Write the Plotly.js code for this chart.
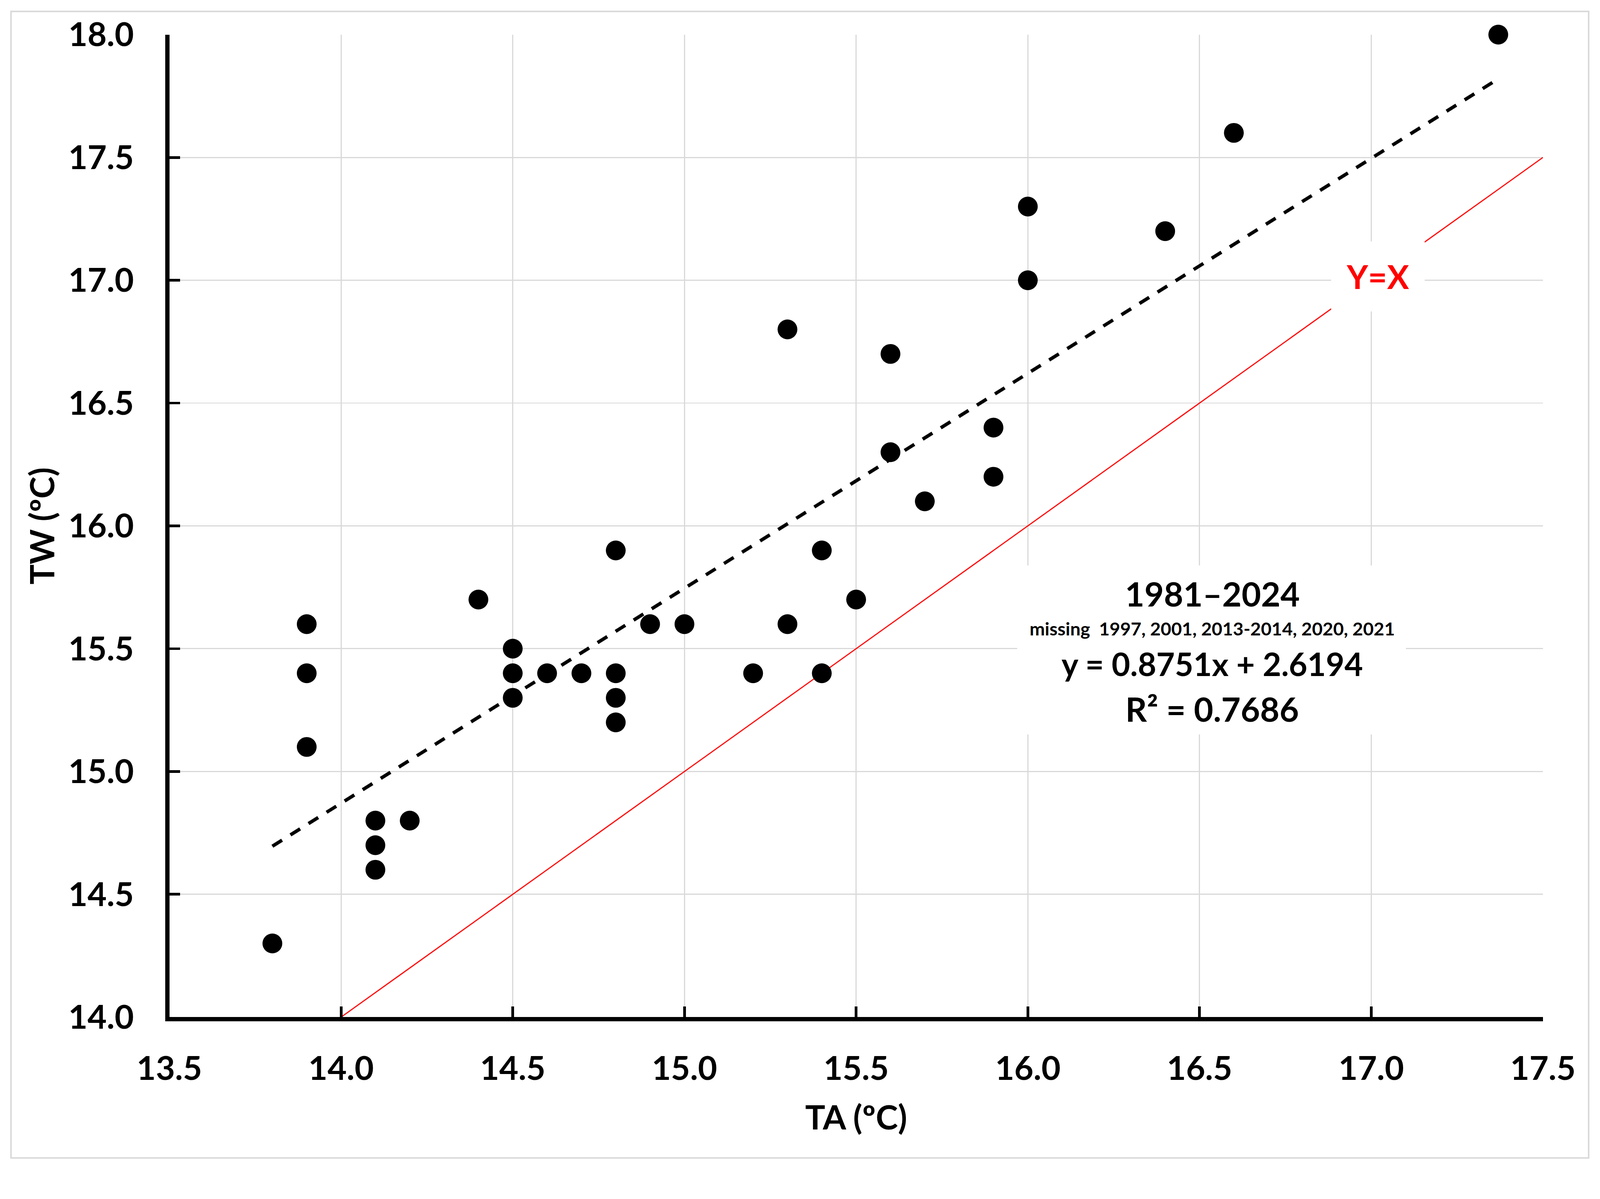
<!DOCTYPE html>
<html>
<head>
<meta charset="utf-8">
<script src="https://cdn.plot.ly/plotly-3.0.1.min.js"></script>
<style>
  html, body { margin: 0; padding: 0; background: #ffffff; overflow: hidden; }
  #chart { width: 4204px; height: 3070px; transform-origin: 0 0; }
</style>
</head>
<body>
<div id="chart"></div>
<script>
// air temperature (TA) vs water temperature (TW), one point per year
const taValues = [13.8, 13.9, 13.9, 13.9, 14.1, 14.1, 14.1, 14.2, 14.4,
    14.5, 14.5, 14.5, 14.6, 14.7, 14.8, 14.8, 14.8, 14.8, 14.9, 15.0,
    15.2, 15.3, 15.3, 15.4, 15.4, 15.5, 15.6, 15.6, 15.7, 15.9, 15.9,
    16.0, 16.0, 16.4, 16.6, 17.37];
const twValues = [14.3, 15.6, 15.4, 15.1, 14.8, 14.7, 14.6, 14.8, 15.7,
    15.5, 15.4, 15.3, 15.4, 15.4, 15.9, 15.4, 15.3, 15.2, 15.6, 15.6,
    15.4, 16.8, 15.6, 15.9, 15.4, 15.7, 16.7, 16.3, 16.1, 16.4, 16.2,
    17.3, 17.0, 17.2, 17.6, 18.0];

// linear fit shown on the chart
const fitSlope = 0.8751;
const fitIntercept = 2.6194;

// 1:1 reference line
const identityX = [14.0, 17.5];

const tickValsX = [13.5, 14.0, 14.5, 15.0, 15.5, 16.0, 16.5, 17.0, 17.5];
const tickValsY = [14.0, 14.5, 15.0, 15.5, 16.0, 16.5, 17.0, 17.5, 18.0];

const statTexts = ['1981–2024',
    'missing  1997, 2001, 2013-2014, 2020, 2021',
    'y = 0.8751x + 2.6194',
    'R² = 0.7686'];

const FONT = 'Lato, "Open Sans", sans-serif';

// the window can be narrower than the figure: shrink it to fit
const fitScale = Math.min(1, window.innerWidth / 4204, window.innerHeight / 3070);
if (fitScale < 1) {
    document.getElementById('chart').style.transform = 'scale(' + fitScale + ')';
}

// trend line over the range of the data
const fitX = [Math.min(...taValues), Math.max(...taValues)];
const fitY = fitX.map(v => fitSlope * v + fitIntercept);

const traces = [
    {
        type: 'scatter', mode: 'lines',
        x: identityX, y: identityX,
        line: { color: '#ff0000', width: 3 },
        hoverinfo: 'skip'
    },
    {
        type: 'scatter', mode: 'lines',
        x: fitX, y: fitY,
        line: { color: '#000000', width: 9, dash: '30px,26px' },
        hoverinfo: 'skip'
    },
    {
        type: 'scatter', mode: 'markers',
        x: taValues, y: twValues,
        cliponaxis: false,
        marker: { color: '#000000', size: 52, line: { width: 0 } }
    }
];

const statY = [15.724, 15.583, 15.439, 15.255];
const statSize = [88, 48, 84, 88];

const annotations = statTexts.map((t, i) => ({
    x: 16.537, y: statY[i], xref: 'x', yref: 'y',
    text: t, showarrow: false,
    xanchor: 'center', yanchor: 'middle',
    font: { family: FONT, size: statSize[i], color: '#000000', weight: 700 }
}));

annotations.push({
    x: 17.02, y: 17.016, xref: 'x', yref: 'y',
    text: 'Y=X', showarrow: false,
    xanchor: 'center', yanchor: 'middle',
    bgcolor: '#ffffff', borderpad: 40,
    font: { family: FONT, size: 86, color: '#ff0000', weight: 700 }
});

const axisCommon = {
    showgrid: true,
    gridcolor: '#d9d9d9',
    gridwidth: 3,
    showline: true,
    linecolor: '#000000',
    linewidth: 11,
    ticks: 'inside',
    ticklen: 28,
    tickwidth: 7,
    tickcolor: '#000000',
    tickformat: '.1f',
    zeroline: false,
    tickfont: { family: FONT, size: 87, color: '#000000', weight: 700 }
};

const layout = {
    width: 4204,
    height: 3070,
    margin: { l: 445, r: 150, t: 91, b: 397 },
    paper_bgcolor: '#ffffff',
    plot_bgcolor: '#ffffff',
    showlegend: false,
    font: { family: FONT },
    xaxis: Object.assign({}, axisCommon, {
        range: [13.5, 17.5],
        tickvals: tickValsX,
        ticklabelstandoff: 50,
        title: {
            text: 'TA (ºC)', standoff: 55,
            font: { family: FONT, size: 88, color: '#000000', weight: 700 }
        }
    }),
    yaxis: Object.assign({}, axisCommon, {
        range: [14, 18],
        tickvals: tickValsY,
        ticklabelstandoff: 65,
        title: {
            text: 'TW (ºC)', standoff: 12,
            font: { family: FONT, size: 88, color: '#000000', weight: 700 }
        }
    }),
    shapes: [
        {   // white panel behind the fit statistics
            type: 'rect', xref: 'x', yref: 'y', layer: 'between',
            x0: 15.969, x1: 17.101, y0: 15.151, y1: 15.839,
            fillcolor: '#ffffff', line: { width: 0 }
        },
        {   // outer frame of the figure
            type: 'rect', xref: 'paper', yref: 'paper', layer: 'below',
            x0: -0.1153, x1: 1.0333, y0: -0.1433, y1: 1.0236,
            fillcolor: 'rgba(0,0,0,0)', line: { color: '#d9d9d9', width: 4 }
        }
    ],
    annotations: annotations
};

Plotly.newPlot('chart', traces, layout, { displayModeBar: false, staticPlot: true });
</script>
</body>
</html>
